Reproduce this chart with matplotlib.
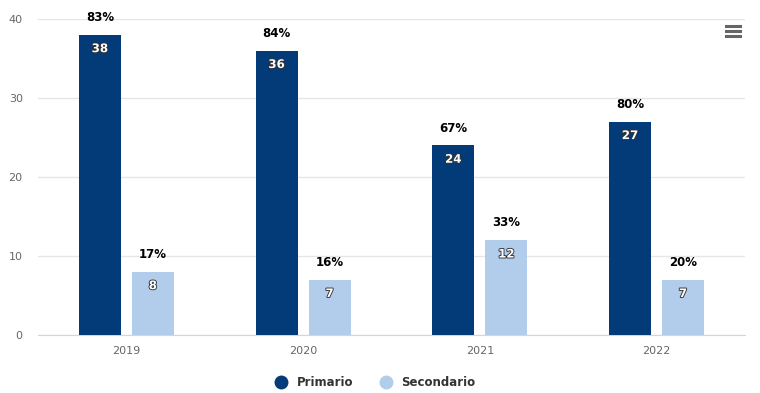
import numpy as np
import matplotlib.pyplot as plt
import matplotlib.patheffects as pe
from matplotlib.lines import Line2D

# Datos
anni = ['2019', '2020', '2021', '2022']
primario = [38, 36, 24, 27]
secondario = [8, 7, 12, 7]
perc_primario = ['83%', '84%', '67%', '80%']
perc_secondario = ['17%', '16%', '33%', '20%']

col_p = '#033a78'
col_s = '#b2cdec'

fig = plt.figure(figsize=(7.6, 3.93), dpi=100)
ax = fig.add_axes([0.05, 0.1476, 0.93, 0.8042])

x = np.arange(len(anni))
w = 0.238
off = 0.15
b1 = ax.bar(x - off, primario, w, color=col_p, label='Primario', zorder=3)
b2 = ax.bar(x + off, secondario, w, color=col_s, label='Secondario', zorder=3)

contorno = [pe.withStroke(linewidth=1.3, foreground='#333333')]
for bars, vals, percs in [(b1, primario, perc_primario), (b2, secondario, perc_secondario)]:
    for b, v, p in zip(bars, vals, percs):
        cx = b.get_x() + b.get_width() / 2
        ax.annotate(p, (cx, v), xytext=(0, 12.5), textcoords='offset points',
                    ha='center', va='center', fontsize=8.5, fontweight='bold', color='#000000')
        ax.annotate(str(v), (cx, v), xytext=(0, -10), textcoords='offset points',
                    ha='center', va='center', fontsize=8.5, fontweight='bold', color='white',
                    path_effects=contorno, zorder=4)

ax.set_xlim(-0.5, 3.5)
ax.set_ylim(0, 40)
ax.set_yticks([0, 10, 20, 30, 40])
ax.set_xticks(x)
ax.set_xticklabels(anni)
ax.grid(axis='y', color='#e6e6e6', linewidth=1, zorder=0)
for s in ['top', 'right', 'left']:
    ax.spines[s].set_visible(False)
ax.spines['bottom'].set_color('#ccd6eb')
ax.tick_params(axis='y', length=0, labelsize=8, colors='#666666', pad=11)
ax.tick_params(axis='x', length=0, labelsize=8, colors='#666666', pad=8)

leg = fig.legend(handles=[Line2D([], [], marker='o', ls='', color=col_p, markersize=9, label='Primario'),
                          Line2D([], [], marker='o', ls='', color=col_s, markersize=9, label='Secondario')],
                 loc='center', bbox_to_anchor=(0.49, 0.027), ncol=2, frameon=False,
                 handletextpad=0.3, columnspacing=1.8, prop={'size': 8.5, 'weight': 'bold'})
for t in leg.get_texts():
    t.set_color('#333333')

# icono de menú
for yy in [0.934, 0.921, 0.908]:
    fig.add_artist(Line2D([0.955, 0.974], [yy, yy], color='#666666', linewidth=2.2,
                          transform=fig.transFigure))

fig.savefig('out.png', dpi=100)
